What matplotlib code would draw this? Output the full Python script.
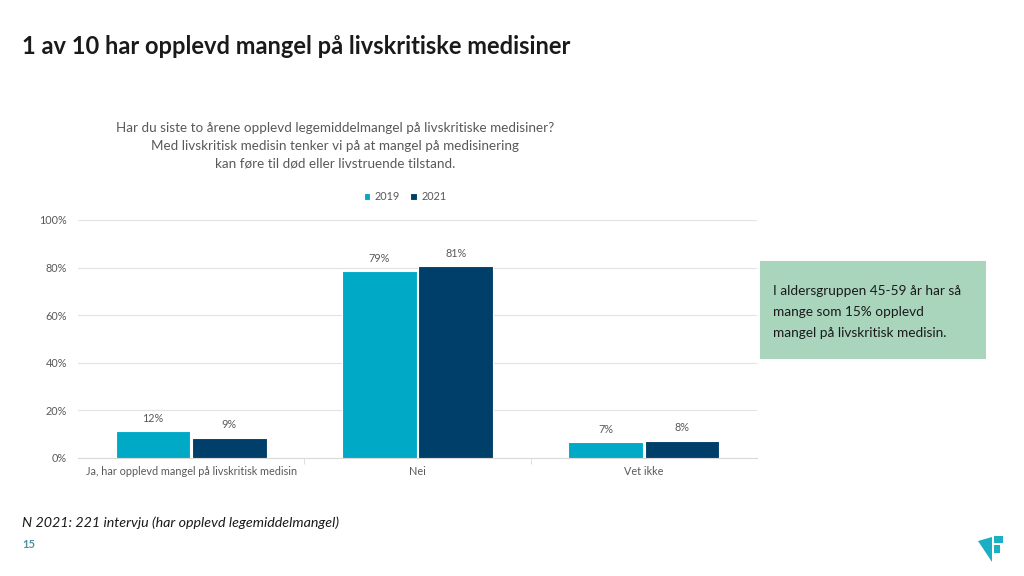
import numpy as np
import matplotlib
matplotlib.use("Agg")
import matplotlib.pyplot as plt
from matplotlib.patches import Rectangle, Polygon

plt.rcParams['font.family'] = ['Lato', 'DejaVu Sans']

# data
categories = ["Ja, har opplevd mangel på livskritisk medisin", "Nei", "Vet ikke"]
years = ["2019", "2021"]
vals_2019 = [11.4, 78.6, 6.8]
vals_2021 = [8.6, 80.7, 7.3]
labels_2019 = ["12%", "79%", "7%"]
labels_2021 = ["9%", "81%", "8%"]
yticks = [0, 20, 40, 60, 80, 100]

c2019 = "#00AAC6"
c2021 = "#003F69"
gray = "#595959"

W, H = 1024, 576
fig = plt.figure(figsize=(W / 100, H / 100), dpi=100)

def px(x, y):
    return x / W, 1 - y / H

fig.text(*px(22, 47), "1 av 10 har opplevd mangel på livskritiske medisiner",
         fontsize=17, fontweight="bold", color="#1a1a1a", va="center", ha="left")

subtitle = ["Har du siste to årene opplevd legemiddelmangel på livskritiske medisiner?",
            "Med livskritisk medisin tenker vi på at mangel på medisinering",
            "kan føre til død eller livstruende tilstand."]
for i, line in enumerate(subtitle):
    fig.text(*px(335, 128 + i * 18), line, fontsize=9.7, color=gray,
             ha="center", va="center")

ax = fig.add_axes([78 / W, 1 - 458 / H, (757 - 78) / W, (458 - 220) / H])
x = np.arange(len(categories))
bw = 0.33
b1 = ax.bar(x - bw / 2 - 0.004, vals_2019, bw, color=c2019, edgecolor="white",
            linewidth=0.8, label=years[0], zorder=3)
b2 = ax.bar(x + bw / 2 + 0.004, vals_2021, bw, color=c2021, edgecolor="white",
            linewidth=0.8, label=years[1], zorder=3)
for bars, labs in ((b1, labels_2019), (b2, labels_2021)):
    for r, lab in zip(bars, labs):
        ax.text(r.get_x() + r.get_width() / 2, r.get_height() + 3, lab,
                ha="center", va="bottom", fontsize=7.8, color=gray)

ax.set_xlim(-0.5, len(categories) - 0.5)
ax.set_ylim(0, 100)
ax.set_yticks(yticks)
ax.set_yticklabels([f"{t}%" for t in yticks])
ax.set_xticks(x)
ax.set_xticklabels(categories)
ax.tick_params(axis="both", length=0, labelsize=7.8, labelcolor=gray, pad=8)
ax.tick_params(axis="x", pad=6)
ax.set_xticks([0.5, 1.5], minor=True)
ax.tick_params(axis="x", which="minor", length=4, color="#d9d9d9", direction="out")
ax.grid(axis="y", color="#e3e3e3", linewidth=0.8, zorder=0)
for s in ["top", "right", "left"]:
    ax.spines[s].set_visible(False)
ax.spines["bottom"].set_color("#d9d9d9")

leg = ax.legend(loc="center", bbox_to_anchor=(px(405, 197)[0], px(405, 197)[1]),
                bbox_transform=fig.transFigure, ncol=2, frameon=False,
                fontsize=7.8, handlelength=0.6, handleheight=0.6,
                handletextpad=0.4, columnspacing=1.0)
for t in leg.get_texts():
    t.set_color(gray)

# green callout box
fig.patches.append(Rectangle(px(760, 359), (986 - 760) / W, (359 - 261) / H,
                             transform=fig.transFigure, facecolor="#A9D5BC",
                             edgecolor="none"))
note = ["I aldersgruppen 45-59 år har så", "mange som 15% opplevd",
        "mangel på livskritisk medisin."]
for i, line in enumerate(note):
    fig.text(*px(773, 291 + i * 21), line, fontsize=9.8, color="#1a1a1a",
             ha="left", va="center")

fig.text(*px(22, 523), "N 2021: 221 intervju (har opplevd legemiddelmangel)",
         fontsize=10.3, style="italic", color="#1a1a1a", ha="left", va="center")
fig.text(*px(22, 545), "15", fontsize=8, fontweight="bold", color="#4f8f9c",
         ha="left", va="center")

# logo
logo_col = "#1BAFC4"
shapes = [
    [(978, 541), (992, 537), (992, 562)],
    [(994, 536), (1003, 536), (1003, 543), (994, 543)],
    [(994, 545), (1000, 545), (1000, 553), (994, 553)],
]
for pts in shapes:
    fig.patches.append(Polygon([px(a, b) for a, b in pts], closed=True,
                               transform=fig.transFigure, facecolor=logo_col,
                               edgecolor="none"))

fig.savefig("out.png", dpi=100)
